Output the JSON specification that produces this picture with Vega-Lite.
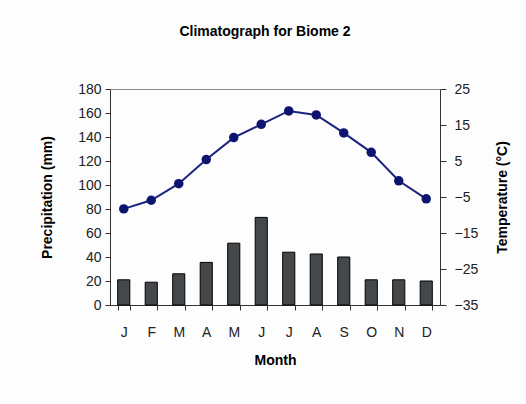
{
  "$schema": "https://vega.github.io/schema/vega-lite/v6.json",
  "autosize": {"type": "none"},
  "width": 330,
  "height": 216,
  "padding": {"left": 110, "top": 89, "right": 86, "bottom": 99},
  "background": "#fdfdfd",
  "title": {"text": "Climatograph for Biome 2", "font": "Liberation Sans", "fontSize": 14, "fontWeight": "bold", "color": "#000", "offset": 43, "dx": -10},
  "config": {
    "view": {"stroke": "#888", "strokeWidth": 1},
    "axis": {"labelFont": "Liberation Sans", "titleFont": "Liberation Sans", "labelFontSize": 14, "titleFontSize": 14, "titleFontWeight": "bold", "labelColor": "#222", "titleColor": "#000", "domainColor": "#333", "tickColor": "#333", "grid": false}
  },
  "data": {"values": [
    {"month": "Jan", "precip": 21, "temp": -8.3},
    {"month": "Feb", "precip": 19, "temp": -5.9},
    {"month": "Mar", "precip": 26, "temp": -1.3},
    {"month": "Apr", "precip": 35.5, "temp": 5.4},
    {"month": "May", "precip": 51.5, "temp": 11.5},
    {"month": "Jun", "precip": 73, "temp": 15.2},
    {"month": "Jul", "precip": 44, "temp": 18.9},
    {"month": "Aug", "precip": 42.5, "temp": 17.8},
    {"month": "Sep", "precip": 40, "temp": 12.8},
    {"month": "Oct", "precip": 21, "temp": 7.4},
    {"month": "Nov", "precip": 21, "temp": -0.5},
    {"month": "Dec", "precip": 20, "temp": -5.5}
  ]},
  "encoding": {
    "x": {"field": "month", "type": "nominal", "sort": null, "title": "Month",
      "scale": {"paddingInner": 0.56, "paddingOuter": 0.28},
      "axis": {"labelAngle": 0, "labelExpr": "substring(datum.label,0,1)", "tickBand": "extent", "tickSize": 5, "labelPadding": 15, "titlePadding": 14}}
  },
  "layer": [
    {
      "mark": {"type": "bar", "fill": "#45484b", "stroke": "#000", "strokeWidth": 1},
      "encoding": {
        "y": {"field": "precip", "type": "quantitative", "title": "Precipitation (mm)",
          "scale": {"domain": [0, 180], "nice": false},
          "axis": {"values": [0, 20, 40, 60, 80, 100, 120, 140, 160, 180], "tickSize": 5, "labelPadding": 4, "titlePadding": 23}}
      }
    },
    {
      "mark": {"type": "line", "color": "#1a237e", "strokeWidth": 2, "point": {"filled": true, "size": 90, "color": "#0d1470"}},
      "encoding": {
        "x": {"field": "month", "type": "nominal", "sort": null, "bandPosition": 0.5},
        "y": {"field": "temp", "type": "quantitative", "title": "Temperature (°C)",
          "scale": {"domain": [-35, 25], "nice": false, "zero": false},
          "axis": {"orient": "right", "values": [-35, -25, -15, -5, 5, 15, 25], "tickSize": 6, "labelPadding": 8, "titlePadding": 32, "titleAngle": 270}}
      }
    }
  ],
  "resolve": {"scale": {"y": "independent"}}
}
